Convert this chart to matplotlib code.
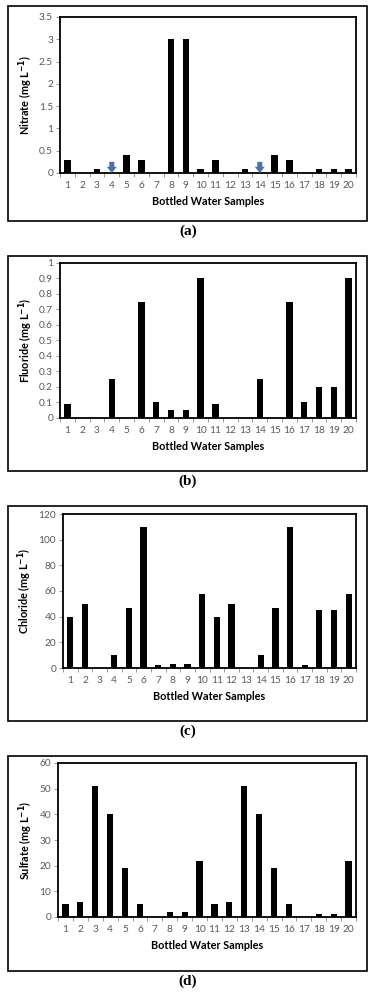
import matplotlib
matplotlib.use("Agg")
import matplotlib.pyplot as plt
from matplotlib.patches import Rectangle
from matplotlib.ticker import MultipleLocator, FixedLocator

samples = list(range(1, 21))
nitrate = [0.3, 0, 0.1, 0, 0.4, 0.3, 0, 3, 3, 0.1, 0.3, 0, 0.1, 0, 0.4, 0.3, 0, 0.1, 0.1, 0.09]
fluoride = [0.09, 0, 0, 0.25, 0, 0.75, 0.1, 0.05, 0.05, 0.9, 0.09, 0, 0, 0.25, 0, 0.75, 0.1, 0.2, 0.2, 0.9]
chloride = [40, 50, 0, 10, 47, 110, 2.5, 3, 3, 58, 40, 50, 0, 10, 47, 110, 2.5, 45, 45, 58]
sulfate = [5, 6, 51, 40, 19, 5, 0, 2, 2, 22, 5, 6, 51, 40, 19, 5, 0, 1, 1, 22]
nitrate_arrows = [4, 14]

panels = [
    ("Nitrate", nitrate, 3.5, 0.5, "a"),
    ("Fluoride", fluoride, 1.0, 0.1, "b"),
    ("Chloride", chloride, 120, 20, "c"),
    ("Sulfate", sulfate, 60, 10, "d"),
]

W, H = 376, 1000
fig = plt.figure(figsize=(W / 100, H / 100), dpi=100)
plt.rcParams['font.family'] = ['Lato', 'DejaVu Sans']

# axes boxes in pixels: left, top, right, bottom
boxes = [(60, 17, 356, 173), (60, 263, 356, 418), (63, 514, 356, 668), (58, 763, 356, 917)]
tick_grey = "#595959"

for i, (name, vals, ymax, step, letter) in enumerate(panels):
    off = 250 * i
    # outer frame of the panel
    fig.patches.append(Rectangle((8 / W, 1 - (off + 221) / H), 359 / W, 215 / H,
                                 transform=fig.transFigure, fill=False,
                                 edgecolor="black", linewidth=1.2))
    l, t, r, b = boxes[i]
    ax = fig.add_axes([l / W, 1 - b / H, (r - l) / W, (b - t) / H])
    ax.bar(samples, vals, width=0.42, color="black")
    ax.set_xlim(0.5, 20.5)
    ax.set_ylim(0, ymax)
    ax.yaxis.set_major_locator(MultipleLocator(step))
    ax.yaxis.set_major_formatter(plt.FuncFormatter(lambda v, p: f"{v:g}"))
    ax.set_xticks(samples)
    ax.set_xticklabels([str(s) for s in samples])
    ax.xaxis.set_minor_locator(FixedLocator([s + 0.5 for s in range(0, 21)]))
    ax.tick_params(axis="x", which="major", length=0, labelsize=7.3, colors=tick_grey, pad=6)
    ax.tick_params(axis="x", which="minor", length=3, width=0.6, color="#888888")
    ax.tick_params(axis="y", which="major", length=3, width=0.6, color="#888888",
                   labelsize=7.3, labelcolor=tick_grey, pad=2)
    for sp in ax.spines.values():
        sp.set_linewidth(1.3)
    ax.set_xlabel("Bottled Water Samples", fontsize=7.8, fontweight="bold", labelpad=4)
    ax.set_ylabel(name + " (mg L$^{\\mathbf{-1}}$)", fontsize=7.8, fontweight="bold", labelpad=3)
    if letter == "a":
        for x in nitrate_arrows:
            ax.annotate("", xy=(x, 0.0), xytext=(x, 0.25),
                        arrowprops=dict(arrowstyle="simple,head_width=0.8,head_length=0.5,tail_width=0.4",
                                        mutation_scale=9, color="#4a72a8", lw=0,
                                        shrinkA=0, shrinkB=0))
    fig.text(188 / W, 1 - (off + 231) / H, f"({letter})", ha="center", va="center",
             fontsize=11, family="Liberation Serif", fontweight="bold")

fig.savefig("out.png", dpi=100, facecolor="white")
